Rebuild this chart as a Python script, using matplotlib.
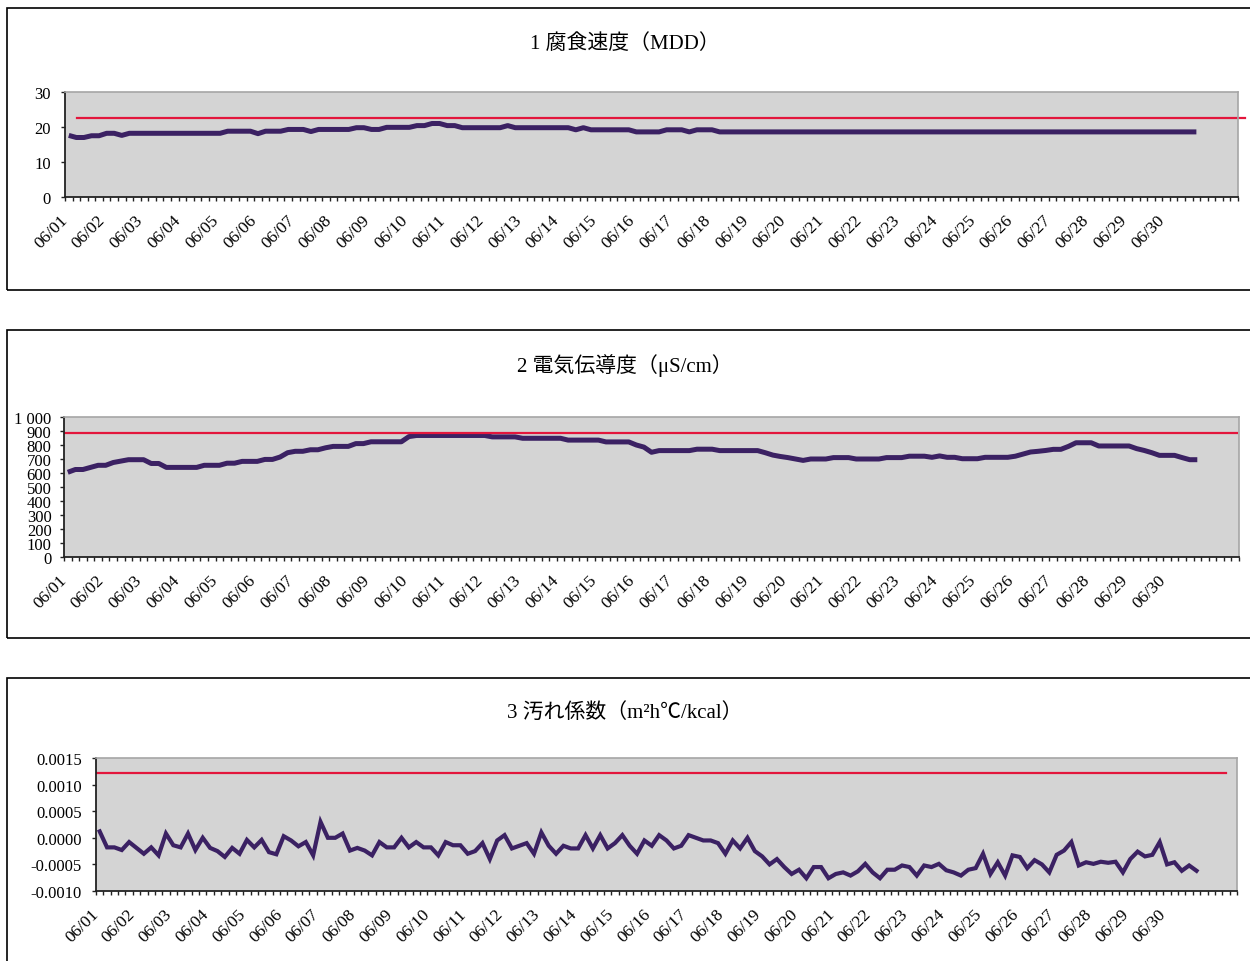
import matplotlib
matplotlib.use("Agg")
import matplotlib.pyplot as plt
from matplotlib.patches import Rectangle
from matplotlib.ticker import FixedLocator, MultipleLocator, FuncFormatter
import numpy as np

plt.rcParams['font.family'] = ['Liberation Serif', 'Noto Sans CJK JP', 'DejaVu Sans']

# 日付ラベル（5点ごと = 1日）
dates = ['06/%02d' % d for d in range(1, 31)]
pts_per_day = 5
n_slots = 155

# 1 腐食速度 (MDD)
corrosion = ([17.6] + [17.0] * 2 + [17.5] * 2 + [18.2] * 2 + [17.6] + [18.2] * 13
             + [18.8] * 4 + [18.1] + [18.8] * 3 + [19.3] * 3 + [18.7] + [19.3] * 5
             + [19.8] * 2 + [19.3] * 2 + [19.9] * 4 + [20.4] * 2 + [21.0] * 2 + [20.4] * 2
             + [19.8] * 6 + [20.4] + [19.8] * 8 + [19.2] + [19.8] + [19.2] * 6
             + [18.6] * 4 + [19.2] * 3 + [18.6] + [19.2] * 3 + [18.6] * 64)
corrosion_limit = 22.5

# 2 電気伝導度 (μS/cm)
conductivity = ([605] + [625] * 2 + [640] + [655] * 2 + [675] + [685] + [695] * 3
                + [668] * 2 + [640] * 5 + [655] * 3 + [670] * 2 + [683] * 3 + [697] * 2
                + [714] + [745] + [755] * 2 + [766] * 2 + [780] + [790] * 3 + [810] * 2
                + [823] * 5 + [860] + [868] * 10 + [858] * 4 + [848] * 6 + [835] * 5
                + [822] * 4 + [800] + [785] + [748] + [760] * 5 + [770] * 3 + [760] * 6
                + [745] + [728] + [718] + [710] + [700] + [690] + [700] * 3 + [710] * 3
                + [700] * 4 + [710] * 3 + [720] * 3 + [712] + [722] + [712] * 2
                + [702] * 3 + [712] * 4 + [720] + [735] + [750] + [755] + [761]
                + [769] * 2 + [790] + [816] * 3 + [793] * 5 + [774] + [761] + [745]
                + [726] * 3 + [710] + [695] * 2)
conductivity_limit = 885

# 3 汚れ係数 (×1e-4 m2h℃/kcal)
fouling_e4 = [
    1.2, -1.8, -1.8, -2.3, -0.8, -1.9, -3.0, -1.8, -3.3, 0.8,
    -1.4, -1.8, 0.8, -2.3, 0.0, -1.9, -2.5, -3.6, -1.9, -3.0,
    -0.4, -1.8, -0.4, -2.7, -3.1, 0.3, -0.5, -1.6, -0.8, -3.3,
    3.0, 0.0, 0.0, 0.8, -2.4, -1.9, -2.4, -3.3, -0.8, -1.8,
    -1.8, 0.0, -1.8, -0.8, -1.8, -1.8, -3.3, -0.8, -1.4, -1.4,
    -3.0, -2.5, -1.0, -4.0, -0.5, 0.5, -2.0, -1.5, -1.0, -3.0,
    1.0, -1.5, -3.0, -1.5, -2.0, -2.0, 0.5, -2.0, 0.5, -2.0,
    -1.0, 0.5, -1.5, -3.0, -0.5, -1.5, 0.5, -0.5, -2.0, -1.5,
    0.5, 0.0, -0.5, -0.5, -1.0, -3.0, -0.5, -2.0, 0.0, -2.5,
    -3.5, -5.0, -4.0, -5.5, -6.8, -6.0, -7.6, -5.5, -5.5, -7.6,
    -6.8, -6.5, -7.1, -6.3, -4.9, -6.5, -7.6, -6.0, -6.0, -5.2,
    -5.5, -7.1, -5.2, -5.5, -4.9, -6.1, -6.5, -7.1, -6.0, -5.7,
    -3.0, -6.8, -4.6, -7.1, -3.3, -3.6, -5.7, -4.2, -5.0, -6.5,
    -3.2, -2.4, -0.8, -5.2, -4.6, -4.9, -4.5, -4.7, -4.5, -6.5,
    -4.0, -2.6, -3.5, -3.2, -0.8, -5.0, -4.6, -6.2, -5.2, -6.2,
]
fouling = np.array(fouling_e4) * 1e-4
fouling_limit = 0.00121

W, H = 1250, 962
fig = plt.figure(figsize=(W / 100, H / 100), dpi=100)

line_color = '#3b2163'
limit_color = '#e3163c'
bg_color = '#d4d4d4'


def frame(top, bottom):
    # 各グラフを囲む黒枠
    fig.add_artist(Rectangle((7 / W, 1 - bottom / H), 1.0, (bottom - top) / H,
                             transform=fig.transFigure, fill=False,
                             ec='black', lw=1.2))


def make_axes(left, top, right, bottom):
    ax = fig.add_axes([left / W, 1 - bottom / H, (right - left) / W, (bottom - top) / H])
    ax.set_facecolor(bg_color)
    for s in ('top', 'right'):
        ax.spines[s].set_color('#a6a6a6')
        ax.spines[s].set_linewidth(1.2)
    for s in ('left', 'bottom'):
        ax.spines[s].set_color('#222222')
        ax.spines[s].set_linewidth(1.3)
    ax.set_xlim(-0.5, n_slots - 0.5)
    ax.xaxis.set_minor_locator(FixedLocator(np.arange(n_slots + 1) - 0.5))
    ax.set_xticks(np.arange(len(dates)) * pts_per_day - 0.5)
    ax.set_xticklabels(dates, rotation=45, ha='right', va='center',
                       rotation_mode='anchor', fontsize=12.5)
    ax.tick_params(axis='x', which='both', direction='out', length=3,
                   width=1, color='#222222', pad=11.5)
    ax.tick_params(axis='y', direction='out', length=3, width=1,
                   color='#222222', labelsize=12, pad=7)
    return ax


def title(text, y):
    fig.text(625 / W, 1 - y / H, text, ha='center', va='center', fontsize=15)


x = np.arange(150)

# 1 腐食速度
frame(9, 291)
title('1 腐食速度（MDD）', 44)
ax1 = make_axes(65, 93, 1238, 198)
ax1.plot(x, corrosion, color=line_color, lw=3.6, solid_capstyle='butt')
ax1.axhline(corrosion_limit, xmin=0.01, xmax=1.006, color=limit_color, lw=1.6, clip_on=False)
ax1.set_ylim(0, 30)
ax1.set_yticks([0, 10, 20, 30])

# 2 電気伝導度
frame(331, 639)
title('2 電気伝導度（μS/cm）', 366)
ax2 = make_axes(64, 418, 1239, 558)
ax2.plot(x, conductivity, color=line_color, lw=3.6, solid_capstyle='butt')
ax2.axhline(conductivity_limit, xmin=0.0, xmax=0.998, color=limit_color, lw=1.6)
ax2.set_ylim(0, 1000)
ax2.yaxis.set_major_locator(MultipleLocator(100))
ax2.yaxis.set_major_formatter(FuncFormatter(
    lambda v, p: '{:,.0f}'.format(v).replace(',', ' ')))
ax2.tick_params(axis='y', pad=6)

# 3 汚れ係数
frame(679, 1000)
title('3 汚れ係数（m²h℃/kcal）', 713)
ax3 = make_axes(96, 759, 1237, 892)
ax3.plot(x, fouling, color=line_color, lw=3.0, solid_joinstyle='miter')
ax3.axhline(fouling_limit, xmin=0.0, xmax=0.99, color=limit_color, lw=1.6)
ax3.set_ylim(-0.0010, 0.0015)
ax3.yaxis.set_major_locator(MultipleLocator(0.0005))
ax3.yaxis.set_major_formatter(FuncFormatter(lambda v, p: '%.4f' % v))

fig.savefig('out.png', dpi=100)
